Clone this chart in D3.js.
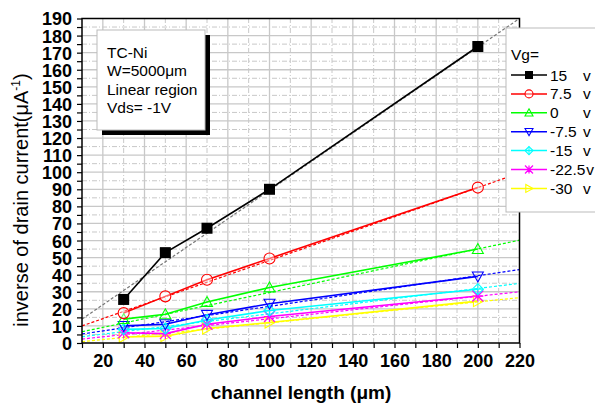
<!DOCTYPE html>
<html>
<head>
<meta charset="utf-8">
<script src="https://cdn.jsdelivr.net/npm/d3@7"></script>
<style>
  html, body { margin: 0; padding: 0; background: #fff; }
  svg { display: block; font-family: "Liberation Sans", Arial, sans-serif; }
</style>
</head>
<body>
<svg id="chart" width="595" height="410"></svg>
<script>
// Channel lengths (µm) at which devices were measured
const lengths = [30, 50, 70, 100, 200];

// Gate voltages and legend labels
const vgLabels = ["15", "7.5", "0", "-7.5", "-15", "-22.5", "-30"];
const colors = ["#000000", "#ff0000", "#00ff00", "#0000ff", "#00ffff", "#ff00ff", "#ffff00"];
const symbols = ["square", "circle", "triangleUp", "triangleDown", "diamond", "star", "triangleRight"];

// Inverse drain current (1/µA) per gate voltage
const invVg15   = [25.5, 52.9, 67.2, 90.0, 173.6];
const invVg7p5  = [17.5, 27.3, 37.0, 49.5, 91.0];
const invVg0    = [14.0, 16.8, 24.0, 32.5, 55.0];
const invVgm7p5 = [10.0, 11.0, 16.5, 23.0, 39.0];
const invVgm15  = [8.0, 8.5, 13.5, 19.0, 31.5];
const invVgm22  = [6.0, 5.5, 11.0, 15.5, 27.5];
const invVgm30  = [3.5, 4.0, 8.5, 12.0, 24.5];
const seriesValues = [invVg15, invVg7p5, invVg0, invVgm7p5, invVgm15, invVgm22, invVgm30];

// Linear fit lines: values at L = 10 µm and at L = 220 µm
const fitRange = [10, 220];
const fitAt10  = [14.0, 10.0, 6.6, 5.3, 3.7, 2.3, 0.8];
const fitAt220 = [190.0, 99.5, 60.2, 43.0, 34.9, 30.0, 26.5];

// Axis ticks
const xTicks = [20, 40, 60, 80, 100, 120, 140, 160, 180, 200, 220];
const yTicks = d3.range(0, 191, 10);

const svg = d3.select("#chart");
const x = d3.scaleLinear().domain([10, 220]).range([82, 519.5]);
const y = d3.scaleLinear().domain([0, 190]).range([343, 18.5]);

const plot = svg.append("g");

// Grid: solid at every 20 µm / 10 units, dashed halfway between
const xMinor = d3.range(10, 221, 10);
const yMinor = d3.range(0, 191, 5);
plot.append("g").selectAll("line").data(xMinor.filter(v => v > 10 && v < 220)).join("line")
  .attr("x1", d => x(d)).attr("x2", d => x(d))
  .attr("y1", y(0)).attr("y2", y(190))
  .attr("stroke", "#c8c8c8").attr("stroke-width", d => d % 20 === 0 ? 1.3 : 1)
  .attr("stroke-dasharray", d => d % 20 === 0 ? null : "5,2,1,2");
plot.append("g").selectAll("line").data(yMinor.filter(v => v > 0 && v < 190)).join("line")
  .attr("x1", x(10)).attr("x2", x(220))
  .attr("y1", d => y(d)).attr("y2", d => y(d))
  .attr("stroke", "#c8c8c8").attr("stroke-width", d => d % 10 === 0 ? 1.3 : 1)
  .attr("stroke-dasharray", d => d % 10 === 0 ? null : "5,2,1,2");

// Axes
const xAxis = d3.axisBottom(x).tickValues(xMinor).tickSize(5).tickFormat(d => xTicks.includes(d) ? d : "");
const gx = svg.append("g").attr("transform", `translate(0,${y(0)})`).call(xAxis);
gx.select(".domain").remove();
gx.selectAll("line").attr("stroke", "#000").attr("stroke-width", 1.2);
gx.selectAll("text").attr("font-size", 18).attr("font-weight", "bold").attr("fill", "#000")
  .attr("dy", null).attr("y", 24);

const yAxis = d3.axisLeft(y).tickValues(yMinor).tickSize(5).tickFormat(d => yTicks.includes(d) ? d : "");
const gy = svg.append("g").attr("transform", `translate(${x(10)},0)`).call(yAxis);
gy.select(".domain").remove();
gy.selectAll("line").attr("stroke", "#000").attr("stroke-width", 1.2);
gy.selectAll("text").attr("font-size", 18).attr("font-weight", "bold").attr("fill", "#000")
  .attr("x", -10).attr("dy", "0.36em");

// Fit lines (dashed)
const fitLine = d3.line().x(d => x(d[0])).y(d => y(d[1]));
seriesValues.forEach((vals, i) => {
  plot.append("path")
    .attr("d", fitLine([[fitRange[0], fitAt10[i]], [fitRange[1], fitAt220[i]]]))
    .attr("fill", "none")
    .attr("stroke", i === 0 ? "#777" : colors[i])
    .attr("stroke-width", 1.2)
    .attr("stroke-dasharray", "3,2");
});

// Symbol shapes
function marker(g, type, color, s) {
  const h = s / 2;
  if (type === "square") {
    g.append("rect").attr("x", -h).attr("y", -h).attr("width", s).attr("height", s).attr("fill", color);
  } else if (type === "circle") {
    g.append("circle").attr("r", h).attr("fill", "#fff").attr("fill-opacity", 0.4).attr("stroke", color).attr("stroke-width", 1.1);
  } else if (type === "triangleUp") {
    g.append("path").attr("d", `M0,${-h}L${h},${h * 0.8}L${-h},${h * 0.8}Z`).attr("fill", "none").attr("stroke", color).attr("stroke-width", 1.1);
  } else if (type === "triangleDown") {
    g.append("path").attr("d", `M0,${h}L${h},${-h * 0.8}L${-h},${-h * 0.8}Z`).attr("fill", "none").attr("stroke", color).attr("stroke-width", 1.1);
  } else if (type === "diamond") {
    g.append("path").attr("d", `M0,${-h}L${h},0L0,${h}L${-h},0Z`).attr("fill", "none").attr("stroke", color).attr("stroke-width", 1.1);
    g.append("path").attr("d", `M0,${-h}V${h}M${-h},0H${h}`).attr("stroke", color).attr("stroke-width", 1);
  } else if (type === "star") {
    g.append("path").attr("d", `M${-h},${-h}L${h},${h}M${h},${-h}L${-h},${h}M0,${-h}V${h}M${-h},0H${h}`).attr("stroke", color).attr("stroke-width", 1.2);
  } else if (type === "triangleRight") {
    g.append("path").attr("d", `M${h},0L${-h * 0.8},${-h}L${-h * 0.8},${h}Z`).attr("fill", "none").attr("stroke", color).attr("stroke-width", 1.1);
  }
}

// Measured data: connecting lines and markers
const dataLine = d3.line().x((d, j) => x(lengths[j])).y(d => y(d));
seriesValues.forEach((vals, i) => {
  plot.append("path").attr("d", dataLine(vals))
    .attr("fill", "none").attr("stroke", colors[i]).attr("stroke-width", 1.6);
});
seriesValues.slice().reverse().forEach((vals, ri) => {
  const i = seriesValues.length - 1 - ri;
  vals.forEach((v, j) => {
    const g = plot.append("g").attr("transform", `translate(${x(lengths[j])},${y(v)})`);
    marker(g, symbols[i], colors[i], 11);
  });
});

// Plot frame
svg.append("rect").attr("x", x(10)).attr("y", y(190))
  .attr("width", x(220) - x(10)).attr("height", y(0) - y(190))
  .attr("fill", "none").attr("stroke", "#000").attr("stroke-width", 1.5);

// Annotation box with drop shadow
const note = svg.append("g");
note.append("rect").attr("x", 102).attr("y", 35).attr("width", 108).attr("height", 100).attr("fill", "#000");
note.append("rect").attr("x", 97).attr("y", 30).attr("width", 108).attr("height", 100)
  .attr("fill", "#fff").attr("stroke", "#bbb").attr("stroke-width", 1);
const noteLines = ["TC-Ni", "W=5000\u03bcm", "Linear region", "Vds= -1V"];
note.selectAll("text").data(noteLines).join("text")
  .attr("x", 107).attr("y", (d, i) => 57.5 + i * 18.6)
  .attr("font-size", 15.5).attr("fill", "#000").text(d => d);

// Legend
const leg = svg.append("g");
leg.append("rect").attr("x", 506).attr("y", 28).attr("width", 100).attr("height", 184)
  .attr("fill", "#fff").attr("stroke", "#bbb").attr("stroke-width", 1);
leg.append("text").attr("x", 511).attr("y", 60).attr("font-size", 15.5).attr("fill", "#000").text("Vg=");
vgLabels.forEach((lab, i) => {
  const cy = 75 + i * 18.9;
  leg.append("line").attr("x1", 511).attr("x2", 547).attr("y1", cy).attr("y2", cy)
    .attr("stroke", colors[i]).attr("stroke-width", 1.5);
  const g = leg.append("g").attr("transform", `translate(529,${cy})`);
  marker(g, symbols[i], colors[i], 8);
  const t = leg.append("text").attr("x", 550).attr("y", cy + 5.5).attr("font-size", 15.5).attr("fill", "#000").text(lab);
  const w = t.node().getComputedTextLength();
  leg.append("text").attr("x", Math.max(583, 550 + w + 1)).attr("y", cy + 5.5)
    .attr("font-size", 15.5).attr("fill", "#000").text("v");
});

// Axis titles
svg.append("text").attr("x", 301).attr("y", 399).attr("text-anchor", "middle")
  .attr("font-size", 19).attr("font-weight", "bold").attr("fill", "#000")
  .text("channel length (\u03bcm)");
const yt = svg.append("text").attr("transform", "translate(28,200) rotate(-90)")
  .attr("text-anchor", "middle").attr("font-size", 20).attr("fill", "#000");
yt.append("tspan").text("inverse of drain current(\u03bcA");
yt.append("tspan").attr("font-size", 12).attr("dy", -8).text("-1");
yt.append("tspan").attr("dy", 8).text(")");
</script>
</body>
</html>
